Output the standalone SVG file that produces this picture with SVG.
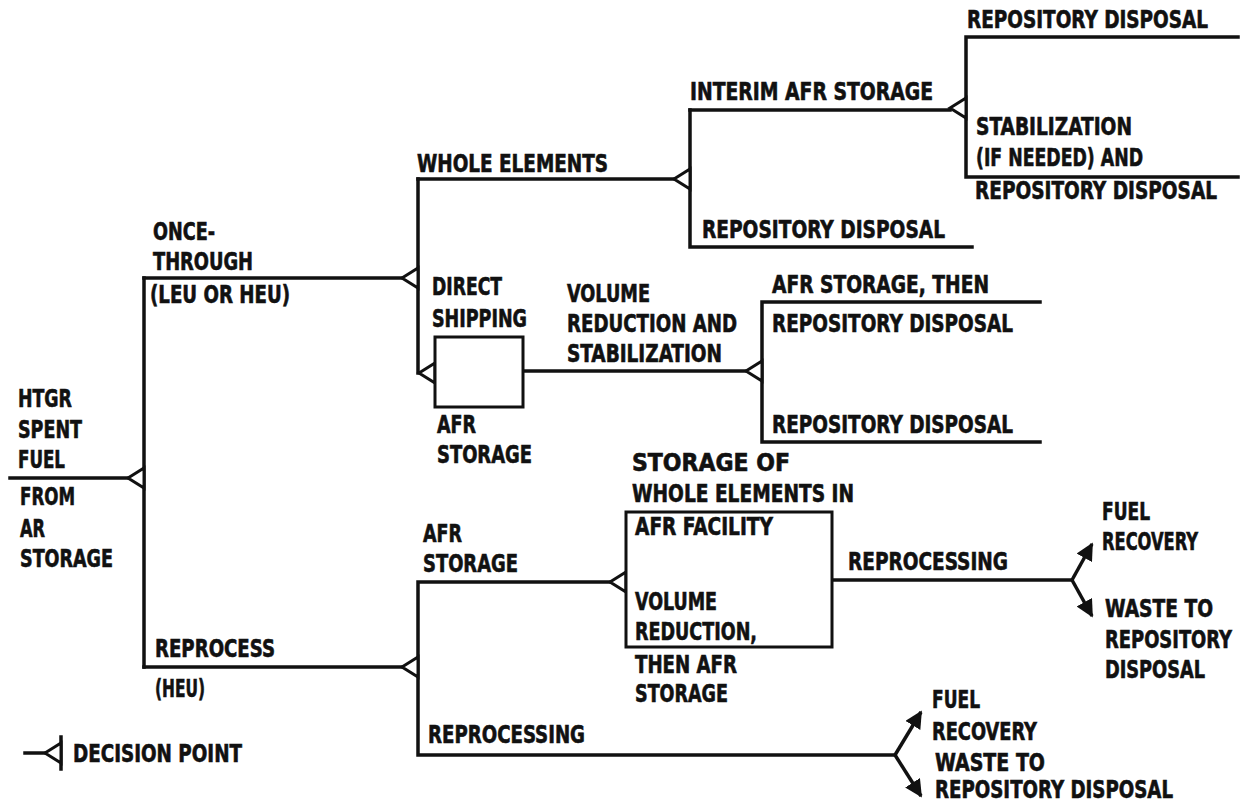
<svg xmlns="http://www.w3.org/2000/svg" width="1247" height="803" viewBox="0 0 1247 803">
<style>
text{font-family:"Liberation Sans Narrow","DejaVu Sans Condensed","Liberation Sans",sans-serif;font-weight:bold;font-size:24px;fill:#111;stroke:#111;stroke-width:0.6}
text.sm{font-size:20px;stroke-width:0.5}
.ln{fill:none;stroke:#111;stroke-width:3.5;stroke-linecap:square}
.box{fill:#fff;stroke:#111;stroke-width:3}
.dp{fill:#fff;stroke:#111;stroke-width:3;stroke-linejoin:miter}
.arr{fill:none;stroke:#111;stroke-width:3.5;marker-end:url(#ah)}
</style>
<defs>
<path id="tri" d="M0,0 L16,-10 L16,10 Z"/>
<marker id="ah" viewBox="0 0 10 10" refX="9" refY="5" markerWidth="5" markerHeight="5" orient="auto" markerUnits="strokeWidth">
<path d="M0,0 L10,5 L0,10 Z" fill="#111"/>
</marker>
</defs>
<rect width="1247" height="803" fill="#fff"/>
<g id="connectors">
<path class="ln" d="M10,478 H128"/>
<path class="ln" d="M144,278 V667"/>
<path class="ln" d="M144,278 H402"/>
<path class="ln" d="M144,667 H402"/>
<path class="ln" d="M418,179 V373 H419"/>
<path class="ln" d="M418,179 H674"/>
<path class="ln" d="M690,110 V247 H972"/>
<path class="ln" d="M690,110 H950"/>
<path class="ln" d="M1238,37 H966 V177 H1238"/>
<path class="ln" d="M523,371 H745"/>
<path class="ln" d="M1040,302 H762 V442 H1040"/>
<path class="ln" d="M610,582 H418 V755 H895"/>
<path class="ln" d="M832,580 H1072"/>
<path class="arr" d="M1072,580 L1092,544"/>
<path class="arr" d="M1072,580 L1092,616"/>
<path class="arr" d="M895,755 L921,712"/>
<path class="arr" d="M895,755 L921,796"/>
</g>
<g id="decision-points">
<use href="#tri" class="dp" x="128" y="478"/>
<use href="#tri" class="dp" x="402" y="278"/>
<use href="#tri" class="dp" x="402" y="667"/>
<use href="#tri" class="dp" x="674" y="179"/>
<use href="#tri" class="dp" x="950" y="108"/>
<use href="#tri" class="dp" x="419" y="373"/>
<use href="#tri" class="dp" x="746" y="371"/>
<use href="#tri" class="dp" x="610" y="582"/>
</g>
<g id="node-htgr">
<text x="18" y="407" textLength="54" lengthAdjust="spacingAndGlyphs">HTGR</text>
<text x="18" y="438" textLength="64" lengthAdjust="spacingAndGlyphs">SPENT</text>
<text x="18" y="468" textLength="47" lengthAdjust="spacingAndGlyphs">FUEL</text>
<text x="20" y="505" textLength="55" lengthAdjust="spacingAndGlyphs">FROM</text>
<text x="20" y="537" textLength="25" lengthAdjust="spacingAndGlyphs">AR</text>
<text x="20" y="567" textLength="93" lengthAdjust="spacingAndGlyphs">STORAGE</text>
</g>
<g id="node-once-through">
<text x="153" y="240" textLength="62" lengthAdjust="spacingAndGlyphs">ONCE-</text>
<text x="153" y="270" textLength="100" lengthAdjust="spacingAndGlyphs">THROUGH</text>
<text x="150" y="303" textLength="140" lengthAdjust="spacingAndGlyphs">(LEU OR HEU)</text>
</g>
<g id="node-reprocess">
<text x="155" y="657" textLength="120" lengthAdjust="spacingAndGlyphs">REPROCESS</text>
<text x="155" y="697" textLength="50" lengthAdjust="spacingAndGlyphs">(HEU)</text>
</g>
<g id="node-whole-elements">
<text x="417" y="172" textLength="191" lengthAdjust="spacingAndGlyphs">WHOLE ELEMENTS</text>
</g>
<g id="node-interim">
<text x="690" y="100" textLength="243" lengthAdjust="spacingAndGlyphs">INTERIM AFR STORAGE</text>
</g>
<g id="node-repo-1">
<text class="sm" transform="translate(967,28) scale(1,1.2)" textLength="241" lengthAdjust="spacingAndGlyphs">REPOSITORY DISPOSAL</text>
</g>
<g id="node-stabilization">
<text x="976" y="135" textLength="156" lengthAdjust="spacingAndGlyphs">STABILIZATION</text>
<text x="976" y="166" textLength="167" lengthAdjust="spacingAndGlyphs">(IF NEEDED) AND</text>
<text class="sm" transform="translate(975,199) scale(1,1.2)" textLength="242" lengthAdjust="spacingAndGlyphs">REPOSITORY DISPOSAL</text>
</g>
<g id="node-repo-2">
<text x="702" y="238" textLength="243" lengthAdjust="spacingAndGlyphs">REPOSITORY DISPOSAL</text>
</g>
<g id="node-direct">
<text x="432" y="295" textLength="70" lengthAdjust="spacingAndGlyphs">DIRECT</text>
<text x="432" y="327" textLength="95" lengthAdjust="spacingAndGlyphs">SHIPPING</text>
</g>
<g id="node-afr-box">
<rect class="box" x="435" y="337" width="88" height="70"/>
<text x="437" y="433" textLength="39" lengthAdjust="spacingAndGlyphs">AFR</text>
<text x="437" y="463" textLength="95" lengthAdjust="spacingAndGlyphs">STORAGE</text>
</g>
<g id="node-volume">
<text x="567" y="302" textLength="83" lengthAdjust="spacingAndGlyphs">VOLUME</text>
<text x="567" y="332" textLength="170" lengthAdjust="spacingAndGlyphs">REDUCTION AND</text>
<text x="567" y="362" textLength="155" lengthAdjust="spacingAndGlyphs">STABILIZATION</text>
</g>
<g id="node-afr-then">
<text x="772" y="293" textLength="217" lengthAdjust="spacingAndGlyphs">AFR STORAGE, THEN</text>
<text x="772" y="332" textLength="241" lengthAdjust="spacingAndGlyphs">REPOSITORY DISPOSAL</text>
</g>
<g id="node-repo-3">
<text x="772" y="433" textLength="241" lengthAdjust="spacingAndGlyphs">REPOSITORY DISPOSAL</text>
</g>
<g id="node-storage-whole">
<rect class="box" x="626" y="512" width="206" height="135"/>
<text x="632" y="471" textLength="158" lengthAdjust="spacingAndGlyphs">STORAGE OF</text>
<text x="632" y="502" textLength="222" lengthAdjust="spacingAndGlyphs">WHOLE ELEMENTS IN</text>
<text x="635" y="535" textLength="138" lengthAdjust="spacingAndGlyphs">AFR FACILITY</text>
<text x="635" y="610" textLength="82" lengthAdjust="spacingAndGlyphs">VOLUME</text>
<text x="635" y="640" textLength="122" lengthAdjust="spacingAndGlyphs">REDUCTION,</text>
<text x="635" y="673" textLength="102" lengthAdjust="spacingAndGlyphs">THEN AFR</text>
<text x="635" y="702" textLength="93" lengthAdjust="spacingAndGlyphs">STORAGE</text>
</g>
<g id="node-afr-storage">
<text x="423" y="542" textLength="39" lengthAdjust="spacingAndGlyphs">AFR</text>
<text x="423" y="572" textLength="95" lengthAdjust="spacingAndGlyphs">STORAGE</text>
</g>
<g id="node-reprocessing-1">
<text x="848" y="570" textLength="160" lengthAdjust="spacingAndGlyphs">REPROCESSING</text>
</g>
<g id="node-reprocessing-2">
<text x="428" y="743" textLength="157" lengthAdjust="spacingAndGlyphs">REPROCESSING</text>
</g>
<g id="node-fuel-1">
<text x="1102" y="520" textLength="48" lengthAdjust="spacingAndGlyphs">FUEL</text>
<text class="sm" transform="translate(1102,550) scale(1,1.2)" textLength="96" lengthAdjust="spacingAndGlyphs">RECOVERY</text>
</g>
<g id="node-waste-1">
<text class="sm" transform="translate(1105,617) scale(1,1.2)" textLength="108" lengthAdjust="spacingAndGlyphs">WASTE TO</text>
<text class="sm" transform="translate(1105,648) scale(1,1.2)" textLength="127" lengthAdjust="spacingAndGlyphs">REPOSITORY</text>
<text class="sm" transform="translate(1105,678) scale(1,1.2)" textLength="100" lengthAdjust="spacingAndGlyphs">DISPOSAL</text>
</g>
<g id="node-fuel-2">
<text x="932" y="708" textLength="48" lengthAdjust="spacingAndGlyphs">FUEL</text>
<text x="932" y="740" textLength="105" lengthAdjust="spacingAndGlyphs">RECOVERY</text>
</g>
<g id="node-waste-2">
<text x="935" y="771" textLength="110" lengthAdjust="spacingAndGlyphs">WASTE TO</text>
<text x="935" y="798" textLength="238" lengthAdjust="spacingAndGlyphs">REPOSITORY DISPOSAL</text>
</g>
<g id="legend">
<path class="ln" d="M25,753 H45"/>
<path class="ln" d="M61,737 V769"/>
<use href="#tri" class="dp" x="45" y="753"/>
<text x="73" y="762" textLength="169" lengthAdjust="spacingAndGlyphs">DECISION POINT</text>
</g>
</svg>
